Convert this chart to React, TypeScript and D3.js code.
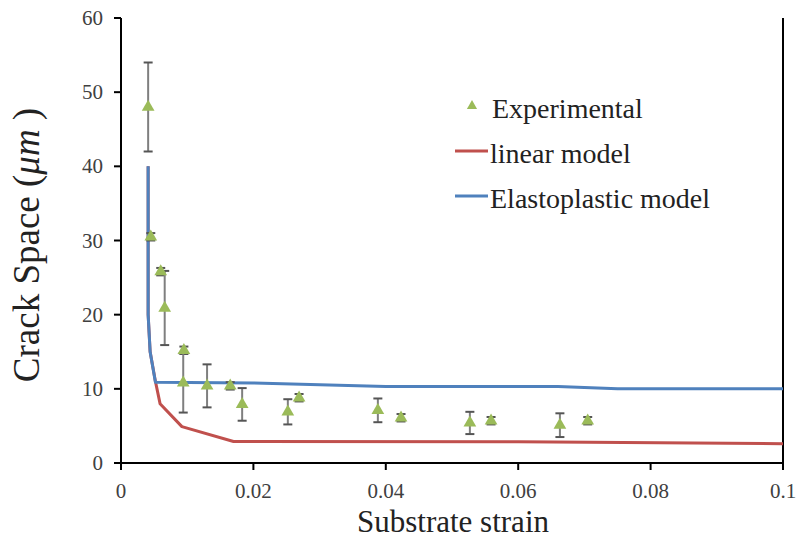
import React from "react";
import * as d3 from "d3";

const expStrain = [0.0041, 0.0045, 0.006, 0.0066, 0.0095, 0.0094, 0.013, 0.0165, 0.0183, 0.0252, 0.0269, 0.0388, 0.0423, 0.0527, 0.0559, 0.0663, 0.0705];
const expValue = [48, 30.5, 25.8, 20.9, 15.2, 10.8, 10.4, 10.4, 7.9, 6.9, 8.8, 7.1, 6.1, 5.4, 5.7, 5.1, 5.7];
const expError = [6, 0.5, 0.5, 5, 0.5, 4, 2.9, 0.5, 2.2, 1.7, 0.5, 1.6, 0.5, 1.5, 0.5, 1.6, 0.5];

const linStrain = [0.0041, 0.0041, 0.0044, 0.0052, 0.0059, 0.0092, 0.017, 0.06, 0.1];
const linValue = [40, 20, 15, 11, 8, 4.9, 2.9, 2.85, 2.6];

const epStrain = [0.0041, 0.0041, 0.0044, 0.0052, 0.02, 0.04, 0.066, 0.075, 0.1];
const epValue = [40, 20, 15, 10.9, 10.8, 10.3, 10.3, 10.0, 10.0];

const xTicks = [0, 0.02, 0.04, 0.06, 0.08, 0.1];
const xTickLabels = ["0", "0.02", "0.04", "0.06", "0.08", "0.1"];
const yTicks = [0, 10, 20, 30, 40, 50, 60];

const legendLabels = ["Experimental", "linear model", "Elastoplastic model"];

const GREEN = "#9bbb59";
const RED = "#c0504d";
const BLUE = "#4f81bd";
const FONT = "Liberation Serif, DejaVu Serif, Times, serif";

export default function App() {
  const x = d3.scaleLinear().domain([0, 0.1]).range([121, 783]);
  const y = d3.scaleLinear().domain([0, 60]).range([463, 18]);
  const line = d3
    .line<[number, number]>()
    .x((d) => x(d[0]))
    .y((d) => y(d[1]));
  const linPts = linStrain.map((s, i) => [s, linValue[i]] as [number, number]);
  const epPts = epStrain.map((s, i) => [s, epValue[i]] as [number, number]);
  const tri = d3.symbol().type(d3.symbolTriangle).size(70)();
  const triLegend = d3.symbol().type(d3.symbolTriangle).size(45)();

  return (
    <svg width={797} height={541} style={{ position: "absolute", left: 0, top: 0, background: "#fff", fontFamily: FONT }}>
      {/* plot frame (right side) */}
      <line x1={x(0.1)} x2={x(0.1)} y1={y(60)} y2={y(0)} stroke="#000" strokeWidth={2} />
      {/* lines */}
      <path d={line(linPts) || ""} fill="none" stroke={RED} strokeWidth={3} strokeLinejoin="round" />
      <path d={line(epPts) || ""} fill="none" stroke={BLUE} strokeWidth={3} strokeLinejoin="round" />
      {/* error bars */}
      {expStrain.map((s, i) => {
        const cx = x(s);
        const top = y(expValue[i] + expError[i]);
        const bot = y(expValue[i] - expError[i]);
        return (
          <g key={"e" + i} stroke="#7f7f7f" strokeWidth={2}>
            <line x1={cx} x2={cx} y1={top} y2={bot} />
            <line x1={cx - 4.5} x2={cx + 4.5} y1={top} y2={top} stroke="#555" />
            <line x1={cx - 4.5} x2={cx + 4.5} y1={bot} y2={bot} stroke="#555" />
          </g>
        );
      })}
      {/* markers */}
      {expStrain.map((s, i) => (
        <path key={"m" + i} d={tri || ""} transform={`translate(${x(s)},${y(expValue[i])})`} fill={GREEN} />
      ))}
      {/* axes */}
      <line x1={x(0)} x2={x(0)} y1={y(60)} y2={y(0)} stroke="#000" strokeWidth={2} />
      <line x1={x(0) - 7} x2={x(0.1)} y1={y(0)} y2={y(0)} stroke="#000" strokeWidth={2} />
      {yTicks.map((t) => (
        <g key={"yt" + t}>
          <line x1={x(0) - 7} x2={x(0)} y1={y(t)} y2={y(t)} stroke="#000" strokeWidth={2} />
          <text x={103} y={y(t) + 7} textAnchor="end" fontSize={21} fill="#404040" style={{ fontFamily: FONT }}>
            {t}
          </text>
        </g>
      ))}
      {xTicks.map((t, i) => (
        <g key={"xt" + t}>
          <line x1={x(t)} x2={x(t)} y1={y(0)} y2={y(0) + 7} stroke="#000" strokeWidth={2} />
          <text x={x(t)} y={498} textAnchor="middle" fontSize={21} fill="#404040" style={{ fontFamily: FONT }}>
            {xTickLabels[i]}
          </text>
        </g>
      ))}
      {/* axis titles */}
      <text x={453} y={532} textAnchor="middle" fontSize={31} fill="#222" style={{ fontFamily: FONT }}>
        Substrate strain
      </text>
      <text transform="translate(39,245) rotate(-90)" textAnchor="middle" fontSize={37} fill="#222" style={{ fontFamily: FONT }}>
        Crack Space (<tspan fontStyle="italic">μm</tspan> )
      </text>
      {/* legend */}
      <path d={triLegend || ""} transform="translate(472,106)" fill={GREEN} />
      <text x={492} y={118} fontSize={28} fill="#222" style={{ fontFamily: FONT }}>{legendLabels[0]}</text>
      <line x1={455} x2={488} y1={151} y2={151} stroke={RED} strokeWidth={3} />
      <text x={490} y={163} fontSize={28} fill="#222" style={{ fontFamily: FONT }}>{legendLabels[1]}</text>
      <line x1={455} x2={488} y1={196} y2={196} stroke={BLUE} strokeWidth={3} />
      <text x={490} y={208} fontSize={28} fill="#222" style={{ fontFamily: FONT }}>{legendLabels[2]}</text>
    </svg>
  );
}
